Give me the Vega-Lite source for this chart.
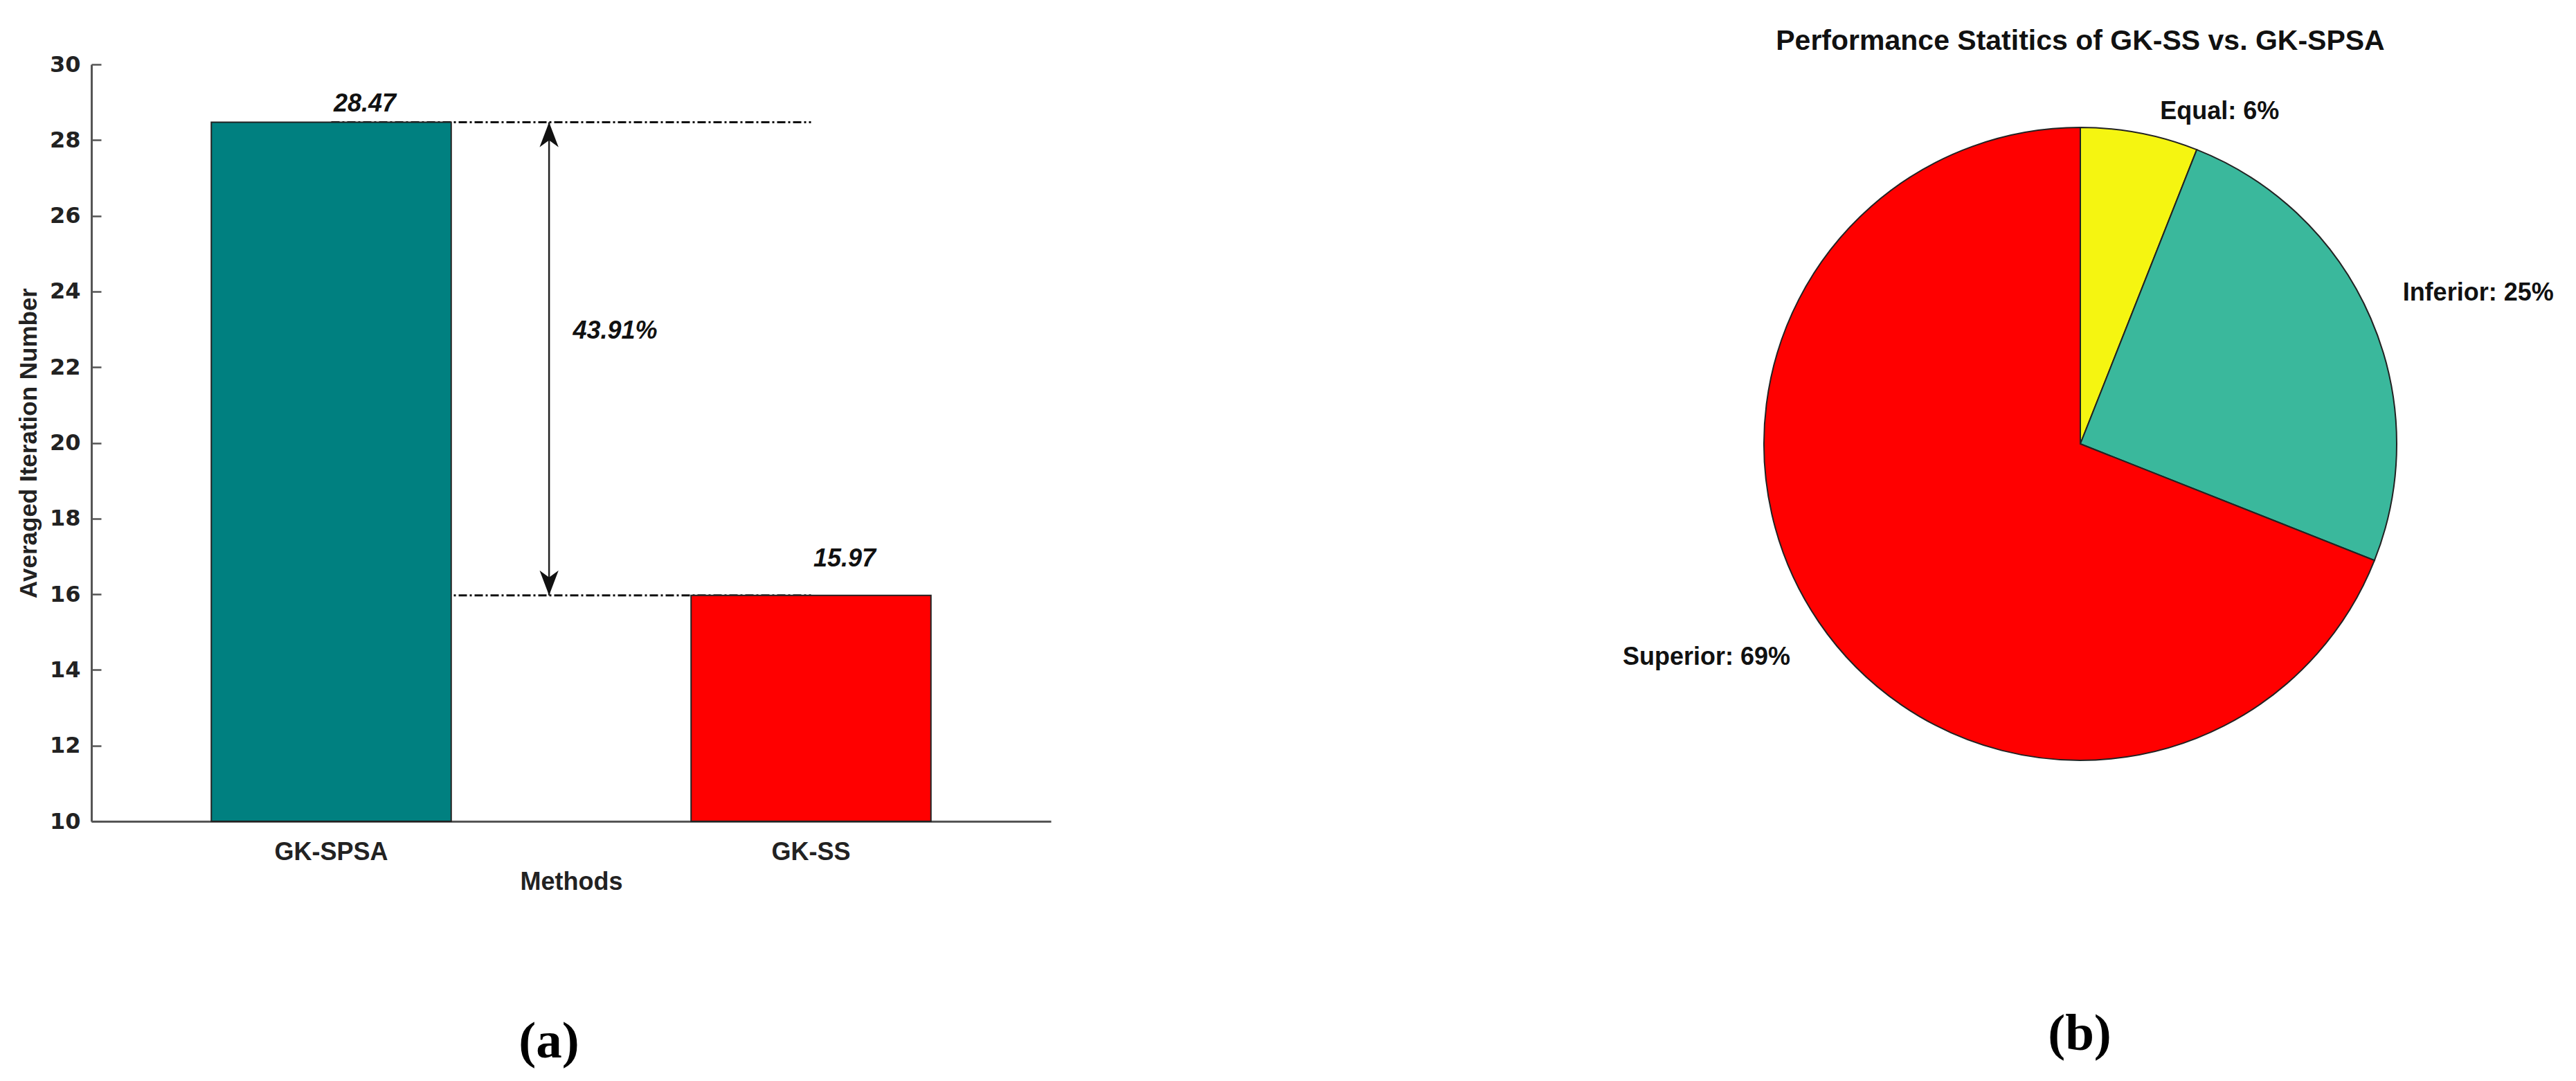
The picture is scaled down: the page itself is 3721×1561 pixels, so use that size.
{
  "$schema": "https://vega.github.io/schema/vega-lite/v6.json",
  "padding": {"left": 24, "top": 39, "right": 5, "bottom": 5},
  "background": "white",
  "bounds": "flush",
  "spacing": 939,
  "resolve": {"scale": {"color": "independent"}},
  "config": {
    "view": {"stroke": null},
    "font": "Liberation Sans",
    "title": {"font": "Liberation Sans"}
  },
  "datasets": {
    "bars": [
      {"method": "GK-SPSA", "value": 28.47},
      {"method": "GK-SS", "value": 15.97}
    ],
    "gap": [
      {"method": "GK-SPSA", "upper": 28.47, "lower": 15.97, "label": "43.91%"}
    ],
    "pie": [
      {"category": "Equal", "percent": 6, "label": "Equal: 6%"},
      {"category": "Inferior", "percent": 25, "label": "Inferior: 25%"},
      {"category": "Superior", "percent": 69, "label": "Superior: 69%"}
    ]
  },
  "hconcat": [
    {
      "width": 1386,
      "height": 1093,
      "title": {"text": "(a)", "orient": "bottom", "font": "Liberation Serif", "fontSize": 75, "fontWeight": "bold", "color": "#000", "baseline": "alphabetic", "offset": 236, "dx": -32},
      "data": {"name": "bars"},
      "layer": [
        {
          "mark": {"type": "rule", "strokeDash": [12, 4, 3, 4], "strokeWidth": 3, "color": "#111"},
          "encoding": {
            "x": {"datum": "GK-SPSA", "type": "nominal"},
            "x2": {"datum": "GK-SS"},
            "y": {"field": "value", "type": "quantitative"}
          }
        },
        {
          "mark": {"type": "bar", "stroke": "#222", "strokeWidth": 2},
          "encoding": {
            "x": {
              "field": "method", "type": "nominal", "sort": null,
              "scale": {"paddingInner": 0.5, "paddingOuter": 0.25},
              "axis": {"title": "Methods", "labelAngle": 0, "labelAlign": "center", "bandPosition": 0.5, "ticks": false, "domainColor": "#555", "domainWidth": 3, "labelFont": "Liberation Sans", "labelFontSize": 36, "labelFontWeight": "bold", "labelColor": "#222", "labelPadding": 44, "titleFont": "Liberation Sans", "titleFontSize": 36, "titleFontWeight": "bold", "titleColor": "#222", "titlePadding": 8}
            },
            "y": {
              "field": "value", "type": "quantitative",
              "scale": {"domain": [10, 30], "zero": false, "nice": false},
              "axis": {"values": [10, 12, 14, 16, 18, 20, 22, 24, 26, 28, 30], "title": "Averaged Iteration Number", "grid": false, "domainColor": "#555", "domainWidth": 3, "tickColor": "#555", "tickWidth": 2.5, "tickSize": -14, "labelPadding": 30, "labelFont": "DejaVu Sans", "labelFontSize": 32, "labelFontWeight": "bold", "labelColor": "#222", "titleFont": "Liberation Sans", "titleFontSize": 35, "titleFontWeight": "bold", "titleColor": "#222", "titlePadding": 12}
            },
            "y2": {"datum": 10},
            "color": {"field": "method", "type": "nominal", "scale": {"domain": ["GK-SPSA", "GK-SS"], "range": ["#008080", "#ff0000"]}, "legend": null}
          }
        },
        {
          "mark": {"type": "text", "fontSize": 36, "fontWeight": "bold", "fontStyle": "italic", "color": "#111", "baseline": "alphabetic", "align": "center", "dy": {"expr": "datum.method === 'GK-SS' ? -42 : -16"}},
          "encoding": {
            "x": {"field": "method", "type": "nominal", "bandPosition": 0.64},
            "y": {"field": "value", "type": "quantitative"},
            "text": {"field": "value", "type": "quantitative", "format": ".2f"}
          }
        },
        {
          "data": {"name": "gap"},
          "mark": {"type": "rule", "strokeWidth": 2.5, "color": "#222"},
          "encoding": {
            "x": {"field": "method", "type": "nominal", "bandPosition": 1.408},
            "y": {"field": "upper", "type": "quantitative"},
            "y2": {"field": "lower"}
          }
        },
        {
          "data": {"name": "gap"},
          "mark": {"type": "point", "shape": "M0,0 L0.38,1 L0,0.72 L-0.38,1 Z", "size": 5184, "filled": true, "color": "#111", "opacity": 1},
          "encoding": {
            "x": {"field": "method", "type": "nominal", "bandPosition": 1.408},
            "y": {"field": "upper", "type": "quantitative"}
          }
        },
        {
          "data": {"name": "gap"},
          "mark": {"type": "point", "shape": "M0,0 L0.38,-1 L0,-0.72 L-0.38,-1 Z", "size": 5184, "filled": true, "color": "#111", "opacity": 1},
          "encoding": {
            "x": {"field": "method", "type": "nominal", "bandPosition": 1.408},
            "y": {"field": "lower", "type": "quantitative"}
          }
        },
        {
          "data": {"name": "gap"},
          "mark": {"type": "text", "fontSize": 36, "fontWeight": "bold", "fontStyle": "italic", "color": "#111", "align": "left", "baseline": "alphabetic", "dy": 13},
          "encoding": {
            "x": {"field": "method", "type": "nominal", "bandPosition": 1.507},
            "y": {"datum": 23, "type": "quantitative"},
            "text": {"field": "label", "type": "nominal"}
          }
        }
      ]
    },
    {
      "title": {"text": "(b)", "orient": "bottom", "frame": "group", "anchor": "middle", "font": "Liberation Serif", "fontSize": 75, "fontWeight": "bold", "color": "#000", "baseline": "alphabetic", "offset": 327, "dx": 547},
      "bounds": "flush",
      "vconcat": [
        {
          "width": 1096,
          "height": 1096,
          "title": {"text": "Performance Statitics of GK-SS vs. GK-SPSA", "fontSize": 41, "fontWeight": "bold", "color": "#111", "baseline": "alphabetic", "offset": -20, "anchor": "middle"},
          "data": {"name": "pie"},
          "encoding": {
            "theta": {"field": "percent", "type": "quantitative", "stack": true}
          },
          "layer": [
            {
              "mark": {"type": "arc", "outerRadius": 457, "stroke": "#222", "strokeWidth": 2},
              "encoding": {
                "color": {"field": "category", "type": "nominal", "scale": {"domain": ["Equal", "Inferior", "Superior"], "range": ["#f5f511", "#3ab89c", "#ff0000"]}, "legend": null}
              }
            },
            {
              "mark": {
                "type": "text", "radius": 503, "fontSize": 36, "fontWeight": "bold", "color": "#111", "baseline": "middle",
                "align": {"expr": "datum.category === 'Superior' ? 'right' : 'left'"},
                "dx": {"expr": "datum.category === 'Equal' ? 21 : (datum.category === 'Inferior' ? 4 : -3)"},
                "dy": {"expr": "datum.category === 'Equal' ? 14 : (datum.category === 'Inferior' ? -18 : 25)"}
              },
              "encoding": {
                "text": {"field": "label", "type": "nominal"}
              }
            }
          ]
        }
      ]
    }
  ]
}
